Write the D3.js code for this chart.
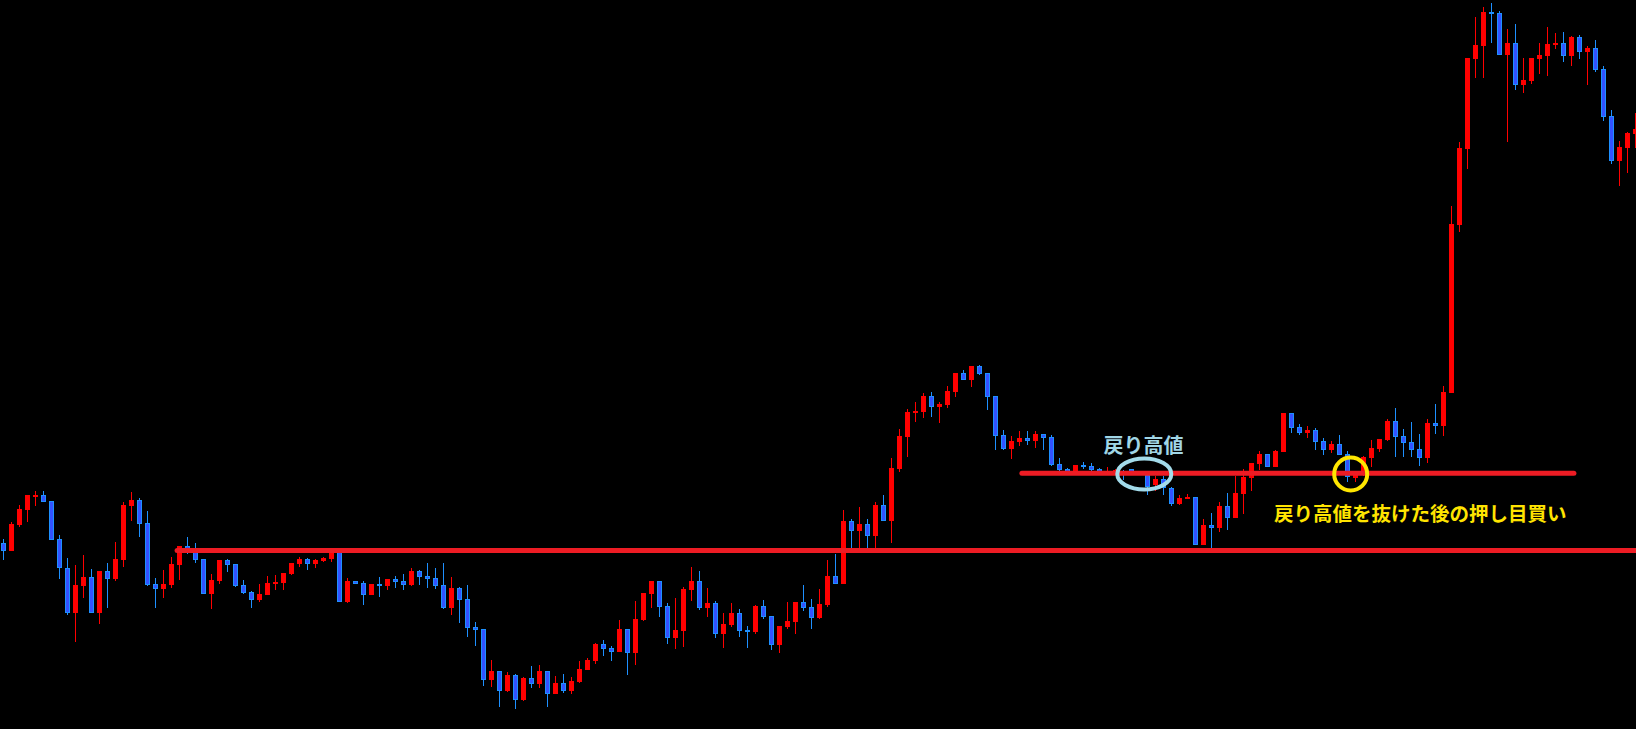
<!DOCTYPE html>
<html>
<head>
  <meta charset="utf-8">
  <style>
    * { margin: 0; padding: 0; box-sizing: border-box; }
    body { background: #000; overflow: hidden; }
    svg { display: block; }
  </style>
</head>
<body>
  <div id="chart"></div>
  <script src="https://cdn.jsdelivr.net/npm/d3@7"></script>
  <script>
    // OHLC per bar
    const opens = [
      457,449,475,490,504,505,499,461,432,387,414,423,387,429,421,440,494,500,477,416,
      411,415,435,454,450,441,406,419,440,436,415,408,400,405,416,417,426,436,441,436,
      439,441,450,398,419,417,405,416,414,421,419,415,429,424,422,415,392,412,401,373,
      371,320,329,309,325,300,322,316,329,306,317,309,318,330,339,356,352,348,371,347,
      380,406,419,394,362,369,410,419,392,397,366,375,387,370,368,394,384,355,373,378,
      398,393,382,395,424,416,479,469,476,464,495,479,531,563,587,588,604,593,595,608,
      627,620,634,627,604,565,551,558,562,559,566,563,536,531,527,535,534,531,526,527,
      529,531,527,525,515,521,512,496,501,503,455,475,472,494,482,506,522,536,546,533,
      548,587,573,567,570,559,550,556,546,522,526,542,551,560,579,564,558,551,542,577,
      574,607,775,851,941,954,988,987,945,957,915,919,941,944,955,957,944,963,948,952,
      931,884,839,852,866
    ];
    const highs = [
      461,478,495,505,509,509,499,465,442,435,445,431,429,437,458,498,508,502,489,422,
      430,443,454,463,457,441,426,440,441,436,420,409,416,424,425,427,437,443,442,441,
      443,450,452,422,419,419,416,423,421,424,426,432,430,437,432,437,423,413,415,378,
      371,340,329,328,326,323,334,335,329,324,326,323,339,342,357,360,354,380,371,399,
      407,419,419,397,402,413,433,429,412,399,387,397,391,374,395,400,384,374,398,398,
      415,401,411,440,446,490,481,493,481,498,505,542,571,591,598,607,608,598,614,627,
      630,634,635,627,604,570,564,569,569,569,566,565,542,532,535,538,537,532,533,531,
      530,531,528,528,524,524,513,505,506,503,481,487,498,507,524,531,537,549,546,550,
      587,587,576,574,572,562,559,565,549,528,544,560,561,581,592,571,578,566,581,596,
      614,794,858,942,983,993,997,989,971,976,942,942,957,973,967,968,964,965,954,960,
      934,890,859,868,887
    ];
    const lows = [
      440,449,473,478,494,498,460,421,385,358,402,387,376,392,419,433,479,463,414,392,
      402,412,420,446,437,406,391,416,428,413,406,392,398,405,410,410,425,433,430,432,
      438,438,398,397,416,395,405,403,410,412,410,414,415,412,411,391,385,377,363,354,
      314,313,293,308,291,299,312,312,293,306,307,306,317,330,336,344,339,348,325,335,
      379,392,383,356,351,353,399,390,383,362,352,373,363,352,366,381,350,347,371,366,
      389,371,381,393,416,416,451,451,452,452,479,457,528,543,578,582,583,577,592,603,
      620,613,625,590,550,550,541,554,555,552,550,534,529,526,526,531,528,526,525,526,
      520,526,525,505,509,505,494,495,501,455,455,452,468,470,482,486,509,530,533,533,
      548,567,565,562,550,545,547,545,518,518,524,533,548,559,543,543,543,534,537,566,
      564,607,768,831,922,922,957,945,858,910,907,916,926,924,951,938,934,941,915,928,
      879,836,814,827,852
    ];
    const closes = [
      449,476,491,505,505,498,460,432,387,415,423,387,429,421,441,495,500,476,415,411,
      416,436,454,451,440,406,420,440,435,414,407,400,406,417,418,427,437,441,436,440,
      442,449,398,419,416,405,416,414,421,418,415,429,423,421,414,392,412,400,372,370,
      320,329,309,325,300,322,316,329,306,317,309,319,331,340,356,351,348,371,347,381,
      407,419,393,362,370,411,419,392,397,366,376,387,369,368,394,383,355,374,379,398,
      392,382,396,424,416,479,469,476,464,495,479,532,564,588,589,604,593,596,609,627,
      620,634,626,603,564,551,559,562,559,566,562,535,530,527,535,533,530,528,528,530,
      526,528,526,513,521,512,496,502,503,455,475,472,494,482,507,523,537,546,533,549,
      587,572,567,570,558,550,556,545,523,525,543,552,561,579,563,557,550,542,577,574,
      608,776,852,942,955,988,986,945,957,915,920,942,945,956,957,944,963,948,952,930,
      883,839,853,867,871
    ];

    // horizontal resistance/support lines: price and bar span
    const levelPrices = [449.5, 526.7];
    const levelFrom = [21.7, 127.3];
    const levelTo = [206, 196.3];

    const noteTexts = ['戻り高値', '戻り高値を抜けた後の押し目買い'];

    const width = 1636;
    const height = 729;
    const upColor = '#ff0000';
    const downFill = '#3352ff';
    const downLine = '#1e90ff';
    const lineColor = '#ed1c24';

    const x = d3.scaleLinear().domain([0, 204]).range([3.5, 1635.5]);
    const y = d3.scaleLinear().domain([271, 1000]).range([729, 0]);

    const bars = opens.map(function(o, i) {
      return { i: i, o: o, h: highs[i], l: lows[i], c: closes[i], up: closes[i] >= o };
    });

    const svg = d3.select('#chart').append('svg')
      .attr('width', width).attr('height', height)
      .attr('viewBox', [0, 0, width, height])
      .style('background', '#000');

    const g = svg.append('g').attr('shape-rendering', 'crispEdges');

    g.selectAll('line.wick')
      .data(bars)
      .join('line')
      .attr('class', 'wick')
      .attr('x1', function(d) { return x(d.i); })
      .attr('x2', function(d) { return x(d.i); })
      .attr('y1', function(d) { return y(d.h); })
      .attr('y2', function(d) { return y(d.l); })
      .attr('stroke', function(d) { return d.up ? upColor : downLine; })
      .attr('stroke-width', 1);

    g.selectAll('rect.body')
      .data(bars)
      .join('rect')
      .attr('class', 'body')
      .attr('x', function(d) { return d.up ? x(d.i) - 2.5 : x(d.i) - 2; })
      .attr('width', function(d) { return d.up ? 5 : 4; })
      .attr('y', function(d) {
        const top = y(Math.max(d.o, d.c));
        return d.up ? top : top + 0.5;
      })
      .attr('height', function(d) {
        const hgt = Math.abs(y(d.o) - y(d.c));
        return d.up ? Math.max(hgt, 1.5) : Math.max(hgt - 1, 1);
      })
      .attr('fill', function(d) { return d.up ? upColor : downFill; })
      .attr('stroke', function(d) { return d.up ? 'none' : downLine; })
      .attr('stroke-width', 1);

    // levels
    svg.selectAll('line.level')
      .data(levelPrices)
      .join('line')
      .attr('class', 'level')
      .attr('x1', function(d, k) { return x(levelFrom[k]); })
      .attr('x2', function(d, k) { return x(levelTo[k]); })
      .attr('y1', function(d) { return y(d); })
      .attr('y2', function(d) { return y(d); })
      .attr('stroke', lineColor)
      .attr('stroke-width', 5)
      .attr('stroke-linecap', 'round');

    // annotations
    svg.append('ellipse')
      .attr('cx', x(142.6)).attr('cy', y(526))
      .attr('rx', 27).attr('ry', 15.5)
      .attr('fill', 'none')
      .attr('stroke', '#a3dbea')
      .attr('stroke-width', 4);

    svg.append('circle')
      .attr('cx', x(168.4)).attr('cy', y(526))
      .attr('r', 16.5)
      .attr('fill', 'none')
      .attr('stroke', '#ffe600')
      .attr('stroke-width', 4);

    svg.append('text')
      .attr('x', x(142.5)).attr('y', 444.5)
      .attr('text-anchor', 'middle')
      .attr('dominant-baseline', 'central')
      .attr('font-family', '"Noto Sans CJK JP", sans-serif')
      .attr('font-weight', 'bold')
      .attr('font-size', 20)
      .attr('fill', '#a0d6e6')
      .text(noteTexts[0]);

    svg.append('text')
      .attr('x', 1274).attr('y', 512)
      .attr('text-anchor', 'start')
      .attr('dominant-baseline', 'central')
      .attr('font-family', '"Noto Sans CJK JP", sans-serif')
      .attr('font-weight', 'bold')
      .attr('font-size', 19.5)
      .attr('fill', '#ffe400')
      .text(noteTexts[1]);
  </script>
</body>
</html>
